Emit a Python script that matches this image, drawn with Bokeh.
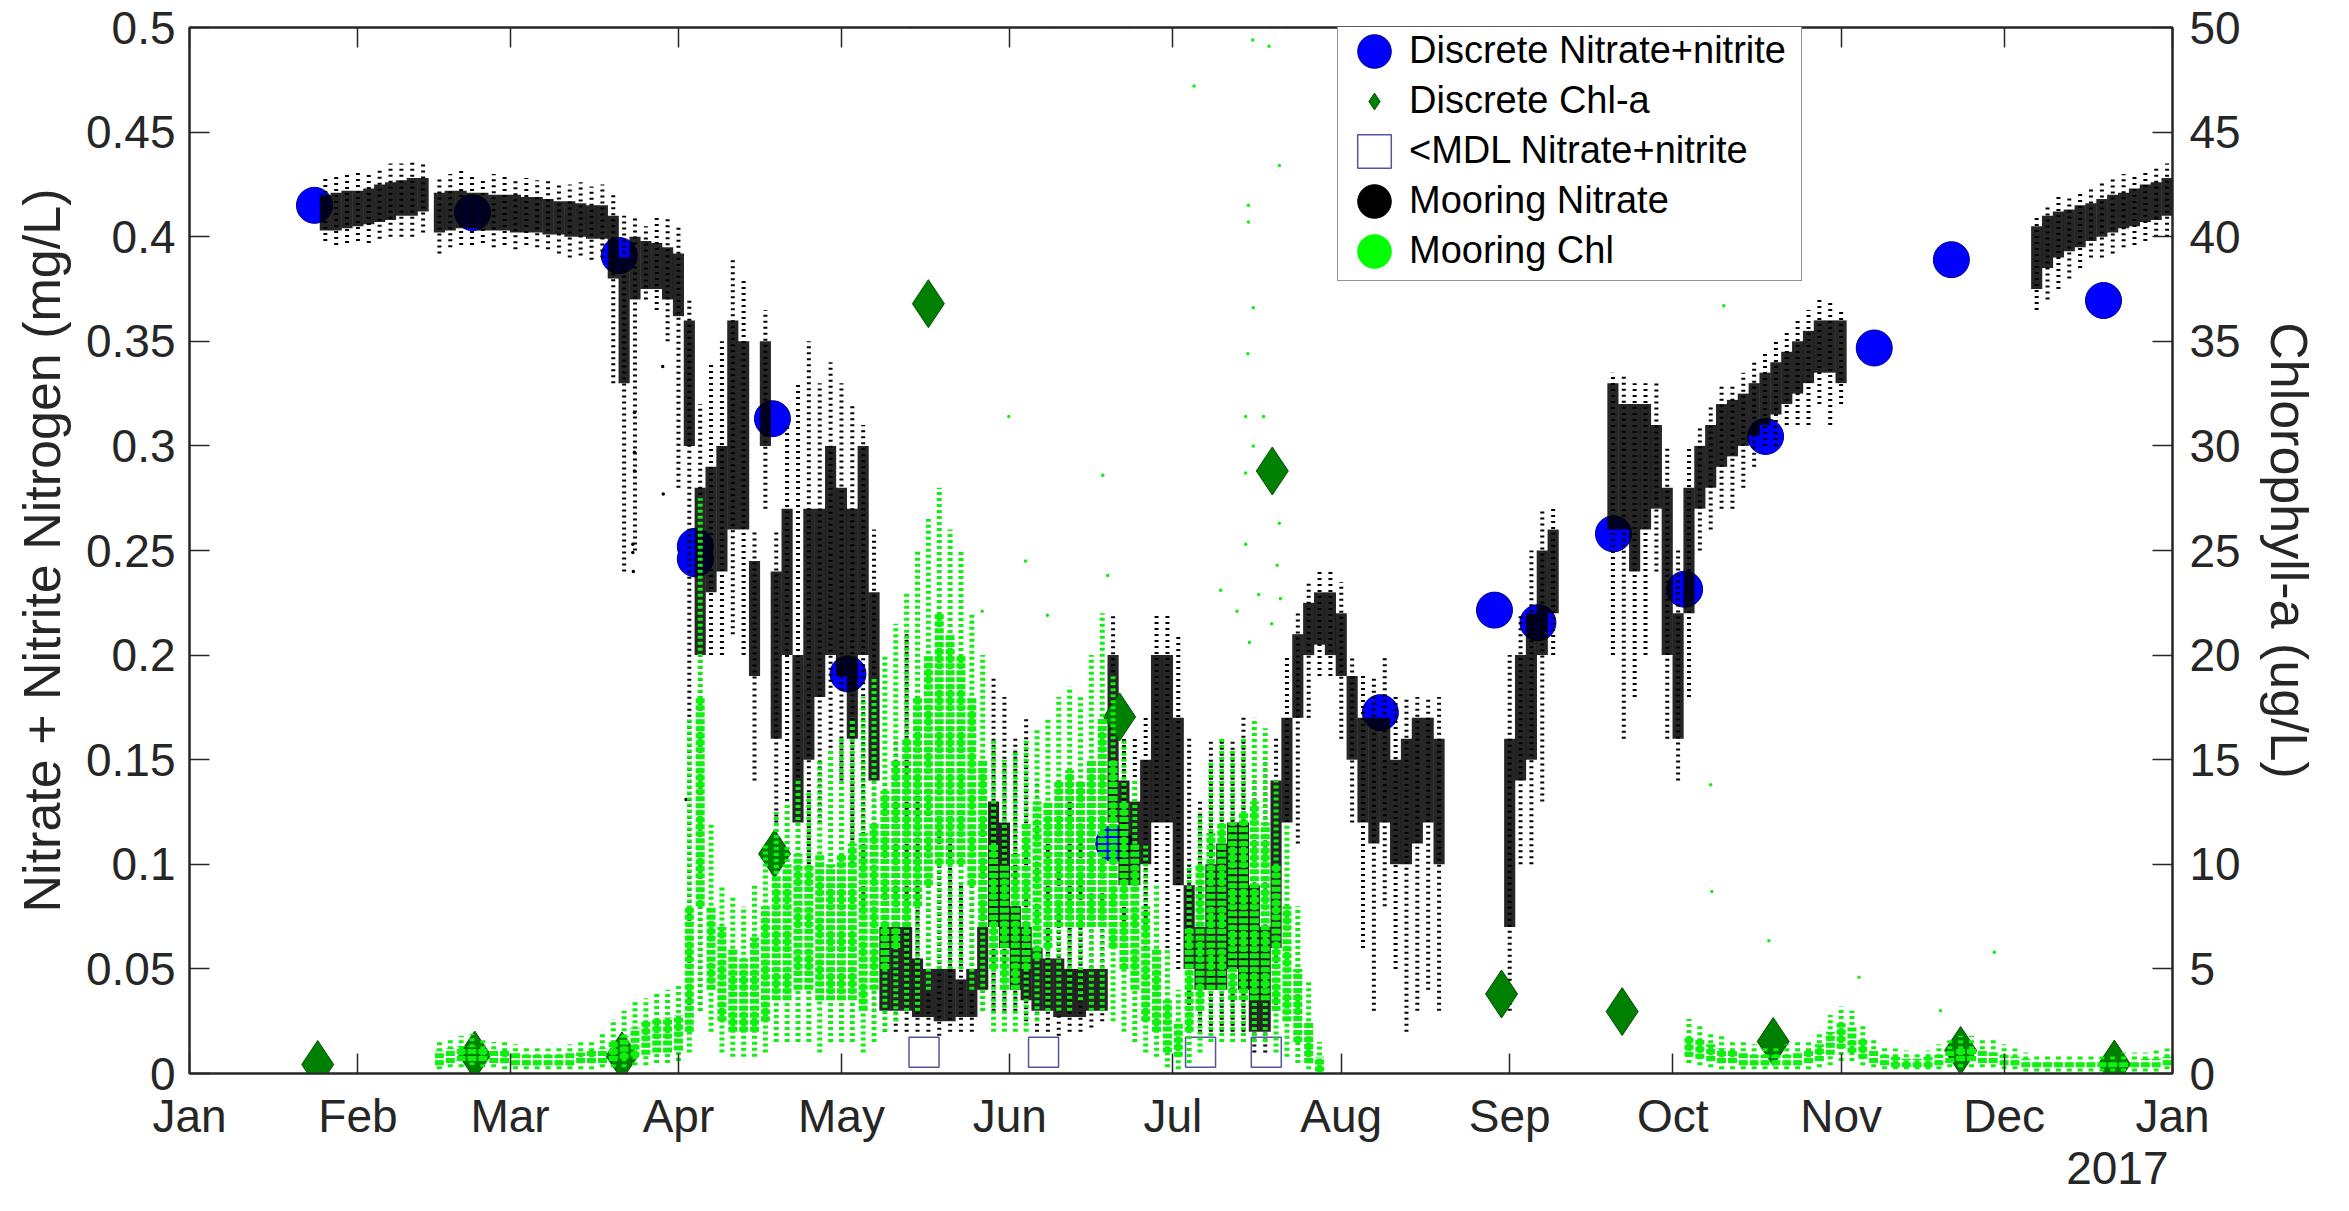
import math
import numpy as np
from bokeh.plotting import figure
from bokeh.models import (Range1d, LinearAxis, FixedTicker, Legend, LegendItem,
                          ColumnDataSource, Label, Title)
from bokeh.embed import file_html
from bokeh.resources import INLINE

# ---------------- data (days since 1 Jan 2017) ----------------
month_ticks = [0, 31, 59, 90, 120, 151, 181, 212, 243, 273, 304, 334, 365]
month_labels = ["Jan", "Feb", "Mar", "Apr", "May", "Jun", "Jul", "Aug",
                "Sep", "Oct", "Nov", "Dec", "Jan"]
year_label = "2017"
no3_ticks = [0, 0.05, 0.1, 0.15, 0.2, 0.25, 0.3, 0.35, 0.4, 0.45, 0.5]
no3_tick_labels = ["0", "0.05", "0.1", "0.15", "0.2", "0.25", "0.3", "0.35",
                   "0.4", "0.45", "0.5"]
chl_ticks = [0, 5, 10, 15, 20, 25, 30, 35, 40, 45, 50]
chl_tick_labels = ["0", "5", "10", "15", "20", "25", "30", "35", "40", "45", "50"]

# discrete nitrate+nitrite (mg/L)
disc_no3_day = [23.0, 52.1, 79.1, 93.1, 93.1, 107.3, 121.2, 170.1, 219.2, 240.2,
                248.2, 262.1, 275.2, 290.1, 310.1, 324.3, 352.3]
disc_no3_val = [0.415, 0.4115, 0.391, 0.252, 0.246, 0.313, 0.191, 0.110, 0.1725,
                0.2215, 0.2155, 0.258, 0.2315, 0.3045, 0.3468, 0.389, 0.3695]
# < MDL nitrate+nitrite
mdl_day = [135.2, 157.2, 186.1, 198.2]
mdl_val = [0.0102, 0.0102, 0.0102, 0.0102]
# discrete chlorophyll-a (ug/L)
disc_chl_day = [23.6, 52.5, 79.6, 107.7, 136.0, 171.2, 199.3, 241.5, 263.7,
                291.5, 326.0, 354.3]
disc_chl_val = [0.43, 0.88, 0.84, 10.5, 36.8, 17.05, 28.8, 3.8, 2.96, 1.53, 1.1, 0.45]

# mooring nitrate: 2-day bins, sparse extent (min/max) and dense core (lo/hi)
no3_day = [25, 27, 29, 31, 33, 35, 37, 39, 41, 43,
           46, 48, 50, 52, 54, 56, 58, 60, 62, 64, 66, 68, 70, 72, 74, 76,
           78, 80, 82, 84, 86, 88, 90, 92, 94,
           96, 98, 100, 102, 104, 106, 108, 110, 112, 114, 116, 118, 120, 122, 124,
           126, 128, 130, 132, 134, 136, 138, 140, 142, 144, 146, 148, 150, 152,
           154, 156, 158, 160, 162, 164, 166, 168, 170, 172, 174, 176, 178, 180,
           182, 184, 186, 188, 190, 192, 194, 196, 198, 200, 202, 204, 206, 208,
           210, 212, 214, 216, 218, 220, 222, 224, 226, 228, 230,
           243, 245, 247, 249, 251,
           262, 264, 266, 268, 270, 272, 274, 276, 278, 280, 282, 284, 286, 288,
           290, 292, 294, 296, 298, 300, 302, 304,
           340, 342, 344, 346, 348, 350, 352, 354, 356, 358, 360, 362, 364]
no3_min = [0.398, 0.396, 0.397, 0.398, 0.397, 0.399, 0.400, 0.400, 0.400, 0.402,
           0.392, 0.395, 0.396, 0.396, 0.397, 0.395, 0.396, 0.394, 0.396, 0.395,
           0.394, 0.392, 0.390, 0.391, 0.389, 0.390,
           0.330, 0.240, 0.250, 0.370, 0.365, 0.350, 0.280, 0.030, 0.030,
           0.20, 0.20, 0.21, 0.20, 0.14, 0.27, 0.12, 0.05, 0.07, 0.10, 0.12, 0.15,
           0.14, 0.10, 0.08,
           0.03, 0.02, 0.02, 0.02, 0.02, 0.02, 0.018, 0.02, 0.02, 0.02, 0.03, 0.03,
           0.03, 0.03, 0.025, 0.02, 0.02, 0.018, 0.02, 0.02, 0.022, 0.025, 0.10,
           0.07, 0.07, 0.06, 0.06, 0.06, 0.05, 0.03, 0.02, 0.02, 0.02, 0.02, 0.02,
           0.01, 0.01, 0.03, 0.06, 0.11, 0.17, 0.19, 0.19, 0.16, 0.12, 0.06, 0.03,
           0.08, 0.05, 0.02, 0.03, 0.04, 0.03,
           0.03, 0.10, 0.10, 0.13, 0.20,
           0.20, 0.16, 0.18, 0.20, 0.24, 0.16, 0.14, 0.18, 0.25, 0.26, 0.27, 0.27,
           0.28, 0.29, 0.30, 0.30, 0.31, 0.31, 0.31, 0.32, 0.31, 0.32,
           0.365, 0.370, 0.375, 0.380, 0.385, 0.390, 0.390, 0.392, 0.395, 0.396,
           0.398, 0.400, 0.400]
no3_lo = [0.403, 0.403, 0.404, 0.405, 0.406, 0.407, 0.408, 0.410, 0.410, 0.412,
          0.402, 0.403, 0.404, 0.404, 0.403, 0.403, 0.403, 0.402, 0.402, 0.402,
          0.401, 0.401, 0.400, 0.400, 0.399, 0.399,
          0.380, 0.330, 0.370, 0.375, 0.375, 0.370, 0.362, 0.300, 0.200,
          0.23, 0.24, 0.26, 0.26, 0.19, 0.30, 0.16, 0.20, 0.12, 0.15, 0.18, 0.20,
          0.19, 0.16, 0.20,
          0.14, 0.03, 0.03, 0.03, 0.027, 0.027, 0.025, 0.025, 0.027, 0.027, 0.04,
          0.07, 0.06, 0.04, 0.035, 0.03, 0.03, 0.027, 0.027, 0.027, 0.03, 0.03,
          0.12, 0.09, 0.09, 0.10, 0.12, 0.12, 0.09, 0.05, 0.04, 0.04, 0.04, 0.05,
          0.04, 0.02, 0.02, 0.06, 0.12, 0.17, 0.20, 0.205, 0.20, 0.19, 0.15, 0.12,
          0.11, 0.12, 0.10, 0.10, 0.11, 0.12, 0.10,
          0.07, 0.14, 0.15, 0.20, 0.22,
          0.26, 0.26, 0.24, 0.26, 0.27, 0.20, 0.16, 0.22, 0.27, 0.28, 0.29, 0.295,
          0.300, 0.305, 0.310, 0.315, 0.320, 0.325, 0.330, 0.335, 0.335, 0.330,
          0.375, 0.385, 0.390, 0.393, 0.395, 0.398, 0.400, 0.402, 0.404, 0.405,
          0.407, 0.408, 0.410]
no3_hi = [0.420, 0.421, 0.422, 0.422, 0.423, 0.425, 0.426, 0.427, 0.428, 0.428,
          0.421, 0.422, 0.422, 0.421, 0.421, 0.420, 0.420, 0.420, 0.419, 0.419,
          0.418, 0.417, 0.417, 0.416, 0.415, 0.415,
          0.410, 0.390, 0.400, 0.398, 0.397, 0.395, 0.392, 0.360, 0.280,
          0.29, 0.30, 0.36, 0.35, 0.245, 0.35, 0.24, 0.27, 0.20, 0.27, 0.27, 0.30,
          0.28, 0.27, 0.30,
          0.23, 0.07, 0.07, 0.07, 0.055, 0.05, 0.05, 0.05, 0.045, 0.05, 0.07,
          0.13, 0.12, 0.08, 0.07, 0.06, 0.055, 0.055, 0.05, 0.05, 0.05, 0.05,
          0.20, 0.14, 0.13, 0.15, 0.20, 0.20, 0.17, 0.09, 0.07, 0.10, 0.11, 0.12,
          0.12, 0.09, 0.07, 0.14, 0.17, 0.21, 0.225, 0.23, 0.23, 0.22, 0.19, 0.17,
          0.17, 0.17, 0.15, 0.16, 0.17, 0.17, 0.16,
          0.16, 0.20, 0.22, 0.25, 0.26,
          0.33, 0.32, 0.32, 0.32, 0.31, 0.28, 0.22, 0.28, 0.30, 0.31, 0.32, 0.322,
          0.325, 0.330, 0.335, 0.340, 0.345, 0.350, 0.355, 0.360, 0.360, 0.360,
          0.405, 0.410, 0.412, 0.413, 0.415, 0.416, 0.418, 0.420, 0.421, 0.423,
          0.425, 0.426, 0.428]
no3_max = [0.428, 0.430, 0.430, 0.432, 0.430, 0.433, 0.435, 0.435, 0.437, 0.436,
           0.428, 0.430, 0.432, 0.430, 0.428, 0.430, 0.430, 0.428, 0.428, 0.427,
           0.428, 0.426, 0.425, 0.426, 0.424, 0.425,
           0.420, 0.410, 0.410, 0.405, 0.410, 0.410, 0.405, 0.370, 0.320,
           0.34, 0.35, 0.39, 0.38, 0.26, 0.365, 0.26, 0.31, 0.33, 0.35, 0.33, 0.34,
           0.33, 0.32, 0.31,
           0.26, 0.14, 0.16, 0.21, 0.14, 0.13, 0.12, 0.115, 0.09, 0.10, 0.12, 0.19,
           0.18, 0.16, 0.17, 0.14, 0.12, 0.11, 0.13, 0.12, 0.11, 0.10, 0.22, 0.16,
           0.16, 0.17, 0.22, 0.22, 0.21, 0.16, 0.13, 0.16, 0.16, 0.16, 0.17, 0.14,
           0.15, 0.16, 0.20, 0.22, 0.235, 0.24, 0.24, 0.235, 0.20, 0.19, 0.19,
           0.20, 0.18, 0.18, 0.18, 0.18, 0.18,
           0.20, 0.22, 0.25, 0.27, 0.27,
           0.335, 0.335, 0.33, 0.33, 0.33, 0.30, 0.25, 0.30, 0.31, 0.32, 0.33, 0.33,
           0.335, 0.34, 0.345, 0.35, 0.355, 0.36, 0.365, 0.37, 0.37, 0.365,
           0.410, 0.415, 0.420, 0.420, 0.422, 0.424, 0.426, 0.428, 0.430, 0.430,
           0.432, 0.433, 0.435]
no3_out_day = [81.9, 81.9, 81.9, 81.6, 81.6, 81.7, 87.1, 87.2, 91.4]
no3_out_val = [0.316, 0.297, 0.288, 0.253, 0.249, 0.240, 0.338, 0.277, 0.131]

# mooring chlorophyll (ug/L): 2-day bins
chl_day = [46, 48, 50, 52, 54, 56, 58, 60, 62, 64, 66, 68, 70, 72, 74, 76, 78, 80,
           82, 84, 86, 88, 90, 92, 94, 96, 98, 100, 102, 104, 106, 108, 110, 112,
           114, 116, 118, 120, 122, 124, 126, 128, 130, 132, 134, 136, 138, 140,
           142, 144, 146, 148, 150, 152, 154, 156, 158, 160, 162, 164, 166, 168,
           170, 172, 174, 176, 178, 180, 182, 184, 186, 188, 190, 192, 194, 196,
           198, 200, 202, 204, 206, 208,
           276, 278, 280, 282, 284, 286, 288, 290, 292, 294, 296, 298, 300, 302,
           304, 306, 308, 310, 312, 314, 316, 318, 320, 322, 324, 326, 328, 330,
           332, 334, 336, 338, 340, 342, 344, 346, 348, 350, 352, 354, 356, 358,
           360, 362, 364]
chl_min = [0.2, 0.3, 0.3, 0.4, 0.3, 0.3, 0.2, 0.2, 0.2, 0.2, 0.2, 0.2, 0.2, 0.2,
           0.2, 0.3, 0.3, 0.3, 0.4, 0.4, 0.5, 0.5, 0.6, 1.0, 3.0, 2.0, 1.0, 0.8,
           0.8, 0.8, 1.0, 1.5, 1.5, 1.5, 1.5, 1.0, 1.5, 1.5, 1.5, 1.0, 1.5, 2.0,
           2.5, 3.0, 3.0, 4.0, 5.0, 5.0, 5.0, 4.0, 3.0, 2.0, 2.0, 2.0, 2.0, 2.5,
           3.0, 3.0, 3.0, 3.5, 3.0, 3.0, 2.5, 2.0, 1.5, 1.0, 0.8, 0.3, 0.2, 0.5,
           1.0, 1.5, 1.5, 1.5, 1.5, 1.5, 1.5, 1.0, 0.8, 0.5, 0.2, 0.0,
           0.5, 0.4, 0.3, 0.2, 0.2, 0.2, 0.2, 0.2, 0.2, 0.2, 0.2, 0.2, 0.3, 0.4,
           0.6, 0.6, 0.4, 0.3, 0.2, 0.2, 0.2, 0.2, 0.2, 0.2, 0.3, 0.3, 0.3, 0.3,
           0.3, 0.2, 0.2, 0.1, 0.1, 0.1, 0.1, 0.1, 0.1, 0.1, 0.1, 0.1, 0.1, 0.1,
           0.1, 0.1, 0.2]
chl_lo = [0.4, 0.5, 0.6, 0.6, 0.6, 0.5, 0.5, 0.4, 0.4, 0.4, 0.4, 0.4, 0.4, 0.5,
          0.5, 0.5, 0.6, 0.7, 0.8, 0.9, 1.0, 1.0, 1.1, 2.0, 8.0, 4.0, 2.5, 2.0,
          2.0, 2.0, 2.5, 3.5, 3.5, 4.0, 4.0, 3.5, 3.5, 3.5, 3.5, 3.0, 4.0, 5.0,
          6.0, 7.0, 8.0, 9.0, 10.0, 10.0, 10.0, 9.0, 7.0, 5.0, 4.0, 4.0, 5.0, 5.5,
          6.0, 7.0, 7.0, 7.0, 7.0, 7.0, 6.0, 5.0, 4.0, 2.5, 2.0, 1.0, 0.8, 2.0,
          3.0, 4.0, 4.0, 3.5, 3.5, 3.5, 3.5, 3.0, 2.5, 1.5, 0.5, 0.1,
          0.8, 0.7, 0.6, 0.5, 0.5, 0.4, 0.4, 0.4, 0.4, 0.4, 0.4, 0.5, 0.6, 0.9,
          1.2, 1.0, 0.7, 0.5, 0.4, 0.3, 0.3, 0.3, 0.3, 0.4, 0.5, 0.6, 0.6, 0.5,
          0.5, 0.4, 0.4, 0.3, 0.3, 0.3, 0.3, 0.3, 0.3, 0.3, 0.3, 0.3, 0.3, 0.3,
          0.3, 0.3, 0.4]
chl_hi = [1.1, 1.2, 1.3, 1.3, 1.2, 1.1, 1.1, 1.0, 0.9, 0.9, 0.9, 0.9, 1.0, 1.0,
          1.1, 1.2, 1.6, 1.8, 2.2, 2.5, 2.6, 2.7, 2.8, 8.0, 18.0, 8.0, 7.0, 6.0,
          5.5, 6.5, 8.0, 9.5, 10.0, 10.5, 10.0, 10.5, 10.0, 10.5, 11.0, 11.5, 12.0,
          13.5, 15.0, 16.0, 18.0, 20.0, 22.0, 21.0, 20.0, 18.0, 15.0, 11.0, 10.0,
          10.5, 12.0, 13.0, 13.0, 14.0, 14.5, 14.0, 15.0, 17.0, 15.0, 13.0, 11.0,
          8.0, 6.0, 3.5, 2.5, 7.0, 10.0, 11.5, 12.0, 12.0, 12.5, 13.0, 12.0, 10.0,
          8.0, 5.0, 2.5, 0.8,
          1.8, 1.6, 1.4, 1.2, 1.1, 1.0, 0.9, 0.9, 0.9, 0.9, 1.0, 1.1, 1.4, 2.0,
          2.4, 2.2, 1.6, 1.1, 0.9, 0.8, 0.7, 0.7, 0.8, 0.9, 1.1, 1.2, 1.2, 1.1,
          1.0, 0.9, 0.8, 0.7, 0.6, 0.6, 0.6, 0.6, 0.6, 0.6, 0.6, 0.6, 0.6, 0.6,
          0.7, 0.7, 0.8]
chl_max = [1.5, 1.6, 1.8, 1.9, 1.7, 1.5, 1.5, 1.4, 1.3, 1.3, 1.2, 1.3, 1.4, 1.5,
           1.6, 1.9, 2.6, 3.0, 3.4, 3.6, 3.8, 4.0, 4.2, 17.0, 27.5, 12.0, 9.0, 8.5,
           8.0, 9.0, 11.0, 12.5, 13.0, 14.0, 13.5, 15.0, 15.5, 16.0, 17.0, 18.0,
           19.0, 20.0, 21.5, 23.0, 25.0, 26.5, 28.0, 26.0, 25.0, 22.0, 20.0, 16.0,
           15.0, 15.5, 16.0, 16.5, 17.0, 18.0, 18.5, 18.0, 20.0, 22.0, 19.0, 16.0,
           14.0, 11.0, 9.0, 6.0, 4.0, 10.0, 12.5, 15.0, 16.0, 15.5, 16.0, 17.0,
           16.5, 14.0, 12.0, 8.0, 4.5, 1.5,
           2.6, 2.4, 2.0, 1.8, 1.6, 1.5, 1.4, 1.3, 1.3, 1.4, 1.5, 1.6, 2.0, 2.8,
           3.2, 3.0, 2.3, 1.6, 1.3, 1.2, 1.1, 1.0, 1.1, 1.4, 1.7, 1.8, 1.8, 1.7,
           1.6, 1.4, 1.2, 1.0, 0.9, 0.9, 0.9, 0.9, 0.9, 0.9, 0.9, 0.9, 1.0, 1.0,
           1.0, 1.1, 1.2]
chl_out_day = [184.9, 195.7, 198.7, 194.9, 194.9, 195.8, 194.8, 194.4, 197.7,
               195.8, 194.4, 200.6, 200.6, 194.4, 200.2, 189.8, 196.8, 200.8,
               192.8, 199.2, 195.1, 150.8, 168.1, 153.9, 157.9, 145.9, 169.0,
               282.4, 280.0, 280.2, 290.7, 332.2, 307.3, 322.3]
chl_out_val = [47.2, 49.4, 49.1, 41.5, 40.7, 36.6, 34.4, 31.4, 31.4, 30.0, 28.7,
               43.4, 26.3, 25.3, 24.3, 23.1, 22.9, 22.7, 22.1, 21.5, 20.6, 31.4,
               28.6, 24.5, 21.9, 22.1, 23.8, 36.7, 13.8, 8.7, 6.35, 5.8, 4.6, 3.0]

# ---------------- figure ----------------
FONT = "Liberation Sans"
AX = "#262626"
BLACK = "#000000"
LIME = "#10f010"
BLUE = "#0000ff"
DGREEN = "#008000"
SQ = "#55559c"

p = figure(width=2349, height=1211, output_backend="svg", toolbar_location=None,
           x_range=Range1d(0, 365), y_range=Range1d(0, 0.5),
           min_border_left=189, min_border_right=177, min_border_top=27,
           min_border_bottom=138, background_fill_color="white",
           border_fill_color="white")
p.extra_y_ranges = {"chl": Range1d(0, 50)}
p.xgrid.visible = False
p.ygrid.visible = False
p.outline_line_color = AX
p.outline_line_width = 2


def style_axis(ax, size="46px"):
    ax.major_tick_in = 20
    ax.major_tick_out = 0
    ax.minor_tick_line_color = None
    ax.major_tick_line_color = AX
    ax.major_tick_line_width = 1.5
    ax.axis_line_color = AX
    ax.axis_line_width = 2
    ax.major_label_text_font = FONT
    ax.major_label_text_font_size = size
    ax.major_label_text_color = AX
    ax.axis_label_text_font = FONT
    ax.axis_label_text_font_size = "52px"
    ax.axis_label_text_font_style = "normal"
    ax.axis_label_text_color = AX


xa = p.xaxis[0]
xa.ticker = FixedTicker(ticks=month_ticks)
xa.major_label_overrides = {t: l for t, l in zip(month_ticks, month_labels)}
style_axis(xa)
xa.major_label_standoff = 16

ya = p.yaxis[0]
ya.ticker = FixedTicker(ticks=no3_ticks)
ya.major_label_overrides = {t: l for t, l in zip(no3_ticks, no3_tick_labels)}
style_axis(ya)
ya.major_label_standoff = 14
ya.axis_label = "Nitrate + Nitrite Nitrogen (mg/L)"
ya.axis_label_standoff = 12

ra = LinearAxis(y_range_name="chl", ticker=FixedTicker(ticks=chl_ticks))
ra.major_label_overrides = {t: l for t, l in zip(chl_ticks, chl_tick_labels)}
style_axis(ra)
ra.major_label_standoff = 17
ra.axis_label = "Chlorophyll-a (ug/L)"
ra.axis_label_standoff = 16
p.add_layout(ra, "right")

ta = LinearAxis(ticker=FixedTicker(ticks=month_ticks))
style_axis(ta, size="0px")
ta.major_label_standoff = 0
ta.major_label_overrides = {t: "" for t in month_ticks}
p.add_layout(ta, "above")

p.add_layout(Title(text=year_label, align="right", text_font=FONT,
                   text_font_size="46px", text_font_style="normal",
                   text_color=AX, standoff=10, offset=4), "below")

# ---------------- glyphs ----------------
r_disc = p.scatter(disc_no3_day, disc_no3_val, marker="circle", size=36,
                   fill_color=BLUE, line_color="#00008a", line_width=1)
r_mdl = p.scatter(mdl_day, mdl_val, marker="square", size=30,
                  fill_color=None, line_color=SQ, line_width=1.5)

no3_src = ColumnDataSource(dict(day=no3_day, mn=no3_min, lo=no3_lo, hi=no3_hi, mx=no3_max))
p.segment(x0="day", y0="mn", x1="day", y1="mx", source=no3_src,
          line_color=BLACK, line_width=4, line_dash="2 4")
p.vbar(x="day", width=2.05, bottom="lo", top="hi", source=no3_src,
       fill_color=BLACK, fill_alpha=0.85, line_color=None)
p.scatter(no3_out_day, no3_out_val, marker="circle", size=3.5,
          fill_color=BLACK, line_color=None)

r_dchl = p.scatter(disc_chl_day, disc_chl_val, y_range_name="chl", marker="diamond",
                   size=48, fill_color=DGREEN, line_color="#005400", line_width=1)

chl_src = ColumnDataSource(dict(day=chl_day, mn=chl_min, lo=chl_lo, hi=chl_hi, mx=chl_max))
p.segment(x0="day", y0="mn", x1="day", y1="mx", source=chl_src, y_range_name="chl",
          line_color=LIME, line_width=5, line_dash="3 3")
p.segment(x0="day", y0="lo", x1="day", y1="hi", source=chl_src, y_range_name="chl",
          line_color=LIME, line_width=9, line_dash="5 2")
p.scatter(chl_out_day, chl_out_val, y_range_name="chl", marker="circle", size=3.5,
          fill_color=LIME, line_color=None)

# legend-only renderers (no visible data: NaN positions)
nan_src = ColumnDataSource(dict(x=[np.nan], y=[np.nan]))
leg_blue = p.ellipse("x", "y", width=33, height=33, width_units="screen",
                     height_units="screen", source=nan_src,
                     fill_color=BLUE, line_color="#00008a")
leg_sq = p.rect("x", "y", width=30, height=30, width_units="screen",
                height_units="screen", source=nan_src,
                fill_color=None, line_color=SQ, line_width=1.5)
leg_no3 = p.ellipse("x", "y", width=33, height=33, width_units="screen",
                    height_units="screen", source=nan_src,
                    fill_color=BLACK, line_color=BLACK)
leg_chl = p.ellipse("x", "y", width=33, height=33, width_units="screen",
                    height_units="screen", source=nan_src,
                    fill_color="#00ff00", line_color="#00ff00")

legend = Legend(items=[
    LegendItem(label="Discrete Nitrate+nitrite", renderers=[leg_blue]),
    LegendItem(label="Discrete Chl-a", renderers=[r_dchl]),
    LegendItem(label="<MDL Nitrate+nitrite", renderers=[leg_sq]),
    LegendItem(label="Mooring Nitrate", renderers=[leg_no3]),
    LegendItem(label="Mooring Chl", renderers=[leg_chl]),
], location=(1148, 792), orientation="vertical",
    glyph_width=42, glyph_height=42, label_height=42, spacing=7, padding=(15, 8),
    label_standoff=14, label_width=377, margin=0,
    label_text_font=FONT, label_text_font_size="38px", label_text_color="black",
    border_line_color=AX, border_line_width=1.5,
    background_fill_color="white", background_fill_alpha=1.0)
p.add_layout(legend, "center")

p.add_layout(Label(x=182.5, y=0.5095, text="2017 Point Williams: 1-m",
                   text_align="center", text_baseline="alphabetic",
                   text_font=FONT, text_font_size="54px", text_font_style="bold",
                   text_color="black"))

open("out.html", "w").write(file_html(p, INLINE))
